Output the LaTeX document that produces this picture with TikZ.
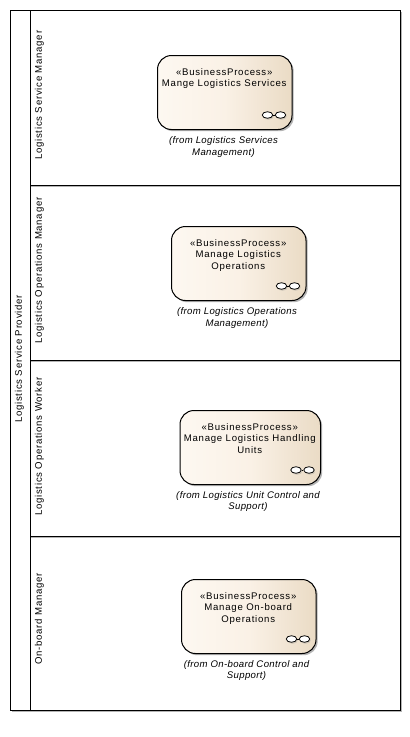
\documentclass[tikz,border=0pt]{standalone}
\usepackage{fontspec}
\setmainfont{Liberation Sans}
\newfontfamily\boxfont[LetterSpace=7.8]{Liberation Sans}
\newfontfamily\fromfont[LetterSpace=3.5]{Liberation Sans}
\usetikzlibrary{positioning,shapes.geometric}
\definecolor{procL}{HTML}{FDF8F1}
\definecolor{procM}{HTML}{FAF1E6}
\definecolor{procR}{HTML}{EADBC5}
\definecolor{shadowc}{HTML}{B4B4B4}
\definecolor{ringshade}{HTML}{CFC6B8}
\tikzset{
  lanebox/.style={draw=black,line width=1pt,fill=white,minimum width=#1,anchor=north west,inner sep=0pt},
  laneshadow/.style={draw=shadowc,line width=1pt},
  proc/.style={draw=black,line width=1pt,rounded corners=14pt,anchor=north west,inner sep=0pt,minimum height=74pt,
    left color=procL,right color=procR,middle color=procM},
  procshadow/.style={fill=shadowc,rounded corners=14pt,anchor=north west,inner sep=0pt,minimum height=74pt},
  ptext/.style={font=\boxfont\fontsize{9.6pt}{11.5pt}\selectfont,align=center,text=black,inner sep=0pt},
  fromtext/.style={font=\fromfont\fontsize{9.6pt}{11.5pt}\selectfont\itshape,align=center,text=black,inner sep=0pt},
  lanetext/.style={font=\boxfont\fontsize{9.6pt}{11pt}\selectfont,rotate=90,anchor=west,inner sep=0pt},
  ring/.style={draw=black,line width=.8pt,fill=white,ellipse,minimum width=10.5pt,minimum height=6.5pt,inner sep=0pt},
  ringshadow/.style={fill=ringshade,ellipse,minimum width=10.5pt,minimum height=6.5pt,inner sep=0pt},
  ringlink/.style={draw=black,line width=.8pt},
}
\newcommand{\procbox}[9]{%
  % #1 name, #2 x, #3 y, #4 width, #5 text, #6 from-text, #7 text y, #8 from y, #9 from x
  \node[procshadow,minimum width=#4pt] at (#2+2,#3+2) {};
  \node[proc,minimum width=#4pt] (#1) at (#2,#3) {};
  \node[ptext,anchor=north] (#1text) at (#2+#4/2,#7) {«BusinessProcess»\\#5};
  \node[fromtext] (#1from) at (#9,#8) {#6};
  \node[ringshadow] at (#2+#4-23,#3+61.5) {};
  \node[ringshadow] at (#2+#4-10,#3+61.5) {};
  \node[ring] (#1a) at (#2+#4-24,#3+60) {};
  \node[ring] (#1b) at (#2+#4-11,#3+60) {};
  \draw[ringlink] (#1a) -- (#1b);
}
\begin{document}
\begin{tikzpicture}[x=1pt,y=-1pt]
\useasboundingbox (0,0) rectangle (410,737);
\fill[shadowc] (12,12) rectangle (402,712);
\node[lanebox=390pt,minimum height=700pt] (outer) at (10,10) {};
\node[lanebox=370pt,minimum height=175pt] (lane1) at (30,10) {};
\node[lanebox=370pt,minimum height=175pt] (lane2) at (30,185) {};
\node[lanebox=370pt,minimum height=176pt] (lane3) at (30,360) {};
\node[lanebox=370pt,minimum height=174pt] (lane4) at (30,536) {};
\draw[laneshadow] ([shift={(1,0.5)}]lane1.south west) -- ([shift={(-1,0.5)}]lane1.south east);
\draw[laneshadow] ([shift={(1,0.5)}]lane2.south west) -- ([shift={(-1,0.5)}]lane2.south east);
\draw[laneshadow] ([shift={(1,0.5)}]lane3.south west) -- ([shift={(-1,0.5)}]lane3.south east);
\node[lanetext] (tOuter) at (19.5,423) {Logistics Service Provider};
\node[lanetext] (t1) at (39.5,160) {Logistics Service Manager};
\node[lanetext] (t2) at (39.5,344) {Logistics Operations Manager};
\node[lanetext] (t3) at (39.5,516) {Logistics Operations Worker};
\node[lanetext] (t4) at (39.5,665) {On-board Manager};
\procbox{p1}{157}{55}{134.5}{Mange Logistics Services}{(from Logistics Services\\Management)}{68}{147}{223.5}
\procbox{p2}{171}{226}{134.5}{Manage Logistics\\Operations}{(from Logistics Operations\\Management)}{239}{318}{237}
\procbox{p3}{179.5}{410}{140.5}{Manage Logistics Handling\\Units}{(from Logistics Unit Control and\\Support)}{423}{501.5}{248}
\procbox{p4}{181}{579}{134.5}{Manage On-board\\Operations}{(from On-board Control and\\Support)}{592}{670.5}{246.5}
\end{tikzpicture}
\end{document}
